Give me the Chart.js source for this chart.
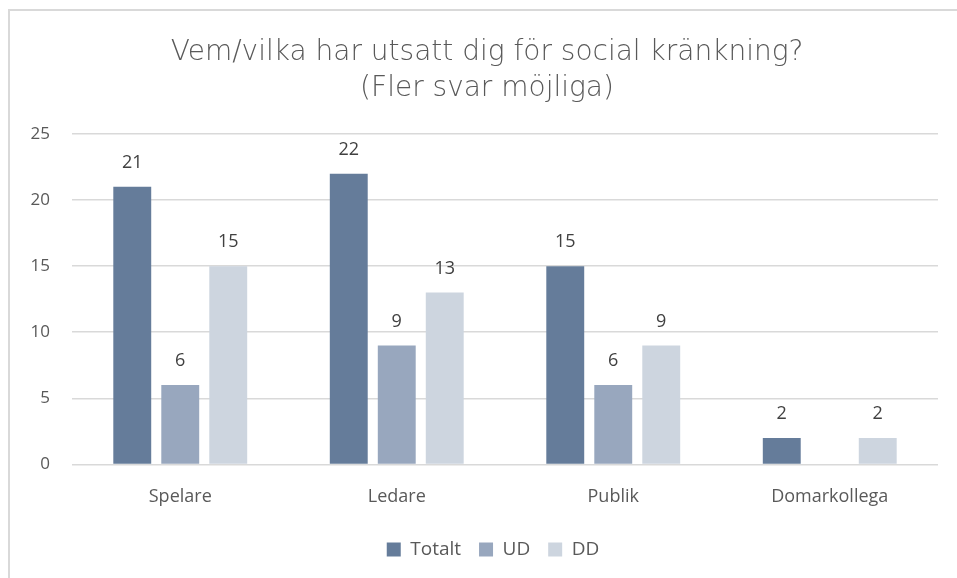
<!DOCTYPE html>
<html>
<head>
<meta charset="utf-8">
<script src="https://cdn.jsdelivr.net/npm/chart.js@4"></script>
<style>
  html, body { margin: 0; padding: 0; background: #fff; }
  #wrap { position: relative; width: 957px; height: 578px; }
  #frame { position: absolute; left: 8px; top: 9px; right: 0; bottom: 0;
           border-left: 2px solid #d9d9d9; border-top: 2px solid #d9d9d9; pointer-events: none; }
</style>
</head>
<body>
<div id="wrap">
  <canvas id="chart" width="957" height="578"></canvas>
  <div id="frame"></div>
</div>
<script>
// Kategorier och serier
const kategorier = ["Spelare", "Ledare", "Publik", "Domarkollega"];
const totalt = [21, 22, 15, 2];
const ud = [6, 9, 6, null];
const dd = [15, 13, 9, 2];
const yTicks = [0, 5, 10, 15, 20, 25];

const colors = {
  totalt: "#657c9a",
  ud: "#98a7be",
  dd: "#cdd5df",
  text: "#595959",
  label: "#404040",
  grid: "#d9d9d9",
};

// Egen plugin för värdeetiketter ovanför staplarna
const vardeEtiketter = {
  id: "vardeEtiketter",
  afterDatasetsDraw(chart) {
    const ctx = chart.ctx;
    ctx.save();
    ctx.font = "18px 'Open Sans'";
    ctx.fillStyle = colors.label;
    ctx.textAlign = "center";
    ctx.textBaseline = "bottom";
    chart.data.datasets.forEach((ds, i) => {
      const meta = chart.getDatasetMeta(i);
      meta.data.forEach((bar, j) => {
        const v = ds.data[j];
        if (v === null || v === undefined) return;
        ctx.fillText(String(v), bar.x, bar.y - 15);
      });
    });
    ctx.restore();
  },
};

// Flytta titel och förklaring lite åt höger, så de centreras över ritytan
const centrering = {
  id: "centrering",
  afterLayout(chart) {
    if (chart.titleBlock) chart.titleBlock.left = 36;
    if (chart.legend) chart.legend.left += 48;
  },
};

new Chart(document.getElementById("chart"), {
  type: "bar",
  data: {
    labels: kategorier,
    datasets: [
      { label: "Totalt", data: totalt, backgroundColor: colors.totalt },
      { label: "UD", data: ud, backgroundColor: colors.ud },
      { label: "DD", data: dd, backgroundColor: colors.dd },
    ],
  },
  options: {
    responsive: false,
    animation: false,
    layout: { padding: { top: 12, right: 19, bottom: 9, left: 0 } },
    datasets: { bar: { categoryPercentage: 0.665, barPercentage: 0.79 } },
    plugins: {
      title: {
        display: true,
        text: ["Vem/vilka har utsatt dig för social kränkning?", "(Fler svar möjliga)"],
        color: colors.text,
        font: { family: "DejaVu Sans", size: 28, weight: 200, lineHeight: "36px" },
        padding: { top: 23, bottom: 27 },
      },
      legend: {
        position: "bottom",
        labels: {
          color: colors.text,
          font: { family: "Open Sans", size: 19 },
          boxWidth: 14,
          boxHeight: 14,
          padding: 18,
        },
      },
      tooltip: { enabled: false },
    },
    scales: {
      x: {
        grid: { display: false },
        border: { display: false },
        ticks: { color: colors.text, font: { family: "Open Sans", size: 18 }, padding: 14 },
      },
      y: {
        min: 0,
        max: 25,
        afterBuildTicks: (scale) => { scale.ticks = yTicks.map((v) => ({ value: v })); },
        afterFit: (scale) => { scale.width = 72; },
        grid: { color: colors.grid, lineWidth: 1.5, drawTicks: false },
        border: { display: false },
        ticks: { color: colors.text, font: { family: "Open Sans", size: 17 }, padding: 22 },
      },
    },
  },
  plugins: [vardeEtiketter, centrering],
});
</script>
</body>
</html>
